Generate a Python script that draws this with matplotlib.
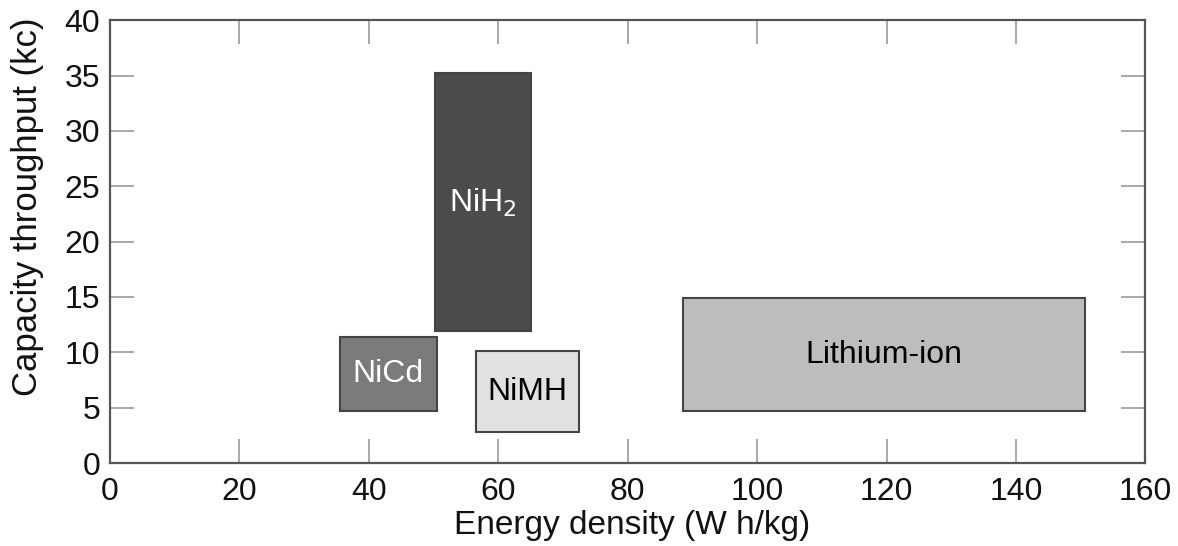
import matplotlib
matplotlib.use("Agg")
import matplotlib.pyplot as plt
from matplotlib.patches import Rectangle

# battery chemistries: energy density range (W h/kg) vs capacity throughput (kc)
nombres = ["NiCd", "NiH$_2$", "NiMH", "Lithium-ion"]
x_min = [35.5, 50.2, 56.5, 88.5]
x_max = [50.5, 65.1, 72.5, 150.7]
y_min = [4.7, 11.9, 2.8, 4.7]
y_max = [11.4, 35.2, 10.1, 14.9]
colores = ["#7b7b7b", "#4b4b4b", "#e1e1e1", "#bdbdbd"]
color_texto = ["white", "white", "black", "black"]

x_ticks = [0, 20, 40, 60, 80, 100, 120, 140, 160]
y_ticks = [0, 5, 10, 15, 20, 25, 30, 35, 40]

plt.rcParams['font.family'] = ['Liberation Sans', 'DejaVu Sans']

fig = plt.figure(figsize=(11.78, 5.46), dpi=100)
ax = fig.add_axes([0.0934, 0.152, 0.879, 0.811])

for i, nombre in enumerate(nombres):
    ax.add_patch(Rectangle((x_min[i], y_min[i]), x_max[i] - x_min[i], y_max[i] - y_min[i],
                           facecolor=colores[i], edgecolor='#444444', linewidth=1.5, zorder=2))
    ax.text((x_min[i] + x_max[i]) / 2, (y_min[i] + y_max[i]) / 2, nombre,
            ha='center', va='center', fontsize=23, color=color_texto[i], zorder=3)

ax.set_xlim(0, 160)
ax.set_ylim(0, 40)
ax.set_xticks(x_ticks)
ax.set_yticks(y_ticks)
ax.tick_params(direction='in', length=17, width=1.2, color='#999999',
               labelsize=23, top=True, right=True, pad=7, labelcolor='#111111')
ax.tick_params(axis='x', pad=10)
for s in ax.spines.values():
    s.set_color('#555555')
    s.set_linewidth(1.6)

ax.set_xlabel("Energy density (W h/kg)", fontsize=24, color='#111111', va='center')
ax.set_ylabel("Capacity throughput (kc)", fontsize=25, color='#111111', va='center')
ax.xaxis.set_label_coords(0.504, -0.142)
ax.yaxis.set_label_coords(-0.080, 0.578)

fig.savefig("out.png", dpi=100)
